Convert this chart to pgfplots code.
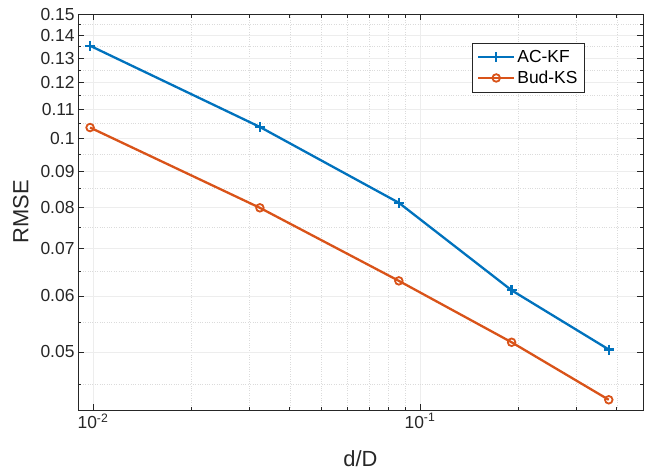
\documentclass[border=0pt]{standalone}
\usepackage{fontspec}
\setmainfont{Liberation Sans}
\usepackage{pgfplots}
\pgfplotsset{compat=1.18}
\definecolor{mblue}{rgb}{0,0.447,0.741}
\definecolor{morange}{rgb}{0.85,0.325,0.098}
\definecolor{axgray}{rgb}{0.15,0.15,0.15}
\begin{document}
\begin{tikzpicture}
\begin{loglogaxis}[
  scale only axis, width=565bp, height=396bp,
  xmin=0.009, xmax=0.481, ymin=0.0414, ymax=0.15,
  /pgf/number format/assume math mode=true,
  xtick={0.01,0.1},
  xticklabels={10\textsuperscript{-2},10\textsuperscript{-1}},
  minor xtick={0.02,0.03,0.04,0.05,0.06,0.07,0.08,0.09,0.2,0.3,0.4},
  ytick={0.05,0.06,0.07,0.08,0.09,0.1,0.11,0.12,0.13,0.14,0.15},
  yticklabels={0.05,0.06,0.07,0.08,0.09,0.1,0.11,0.12,0.13,0.14,0.15},
  minor ytick={0.045,0.055,0.065,0.075,0.085,0.095,0.105,0.115,0.125,0.135,0.145},
  grid=both,
  major grid style={solid, draw=black!7, line width=0.7bp},
  minor grid style={dotted, draw=black!14, line width=0.6bp},
  tick align=inside,
  major tick length=6bp, minor tick length=3.5bp,
  tick style={axgray, line width=0.7bp},
  axis line style={axgray, line width=0.8bp},
  ticklabel style={font=\fontsize{17.5}{20}\selectfont, text=axgray},
  label style={font=\fontsize{22}{26}\selectfont, text=axgray},
  xlabel={d/D}, ylabel={RMSE},
  xlabel style={at={(axis description cs:0.5,-0.123)}, anchor=center},
  ylabel style={at={(axis description cs:-0.101,0.5)}, anchor=center},
  legend style={at={(0.897,0.927)}, anchor=north east, draw=axgray, line width=0.7bp,
    font=\fontsize{17.5}{20}\selectfont, text=black, inner xsep=5bp, inner ysep=5bp,
    row sep=3bp},
  legend cell align=left,
  legend image code/.code={\draw[mark repeat=2,mark phase=2,#1] plot coordinates {(0bp,0bp) (18bp,0bp) (36bp,0bp)};},
]
\addplot[mblue, line width=2.3bp, mark=+, mark size=5bp, mark options={line width=2.2bp}]
  coordinates {(0.0098,0.1353) (0.0324,0.1039) (0.0862,0.0812) (0.1907,0.0611) (0.378,0.0504)};
\addlegendentry{AC-KF}
\addplot[morange, line width=2.3bp, mark=o, mark size=3.8bp, mark options={line width=1.8bp}]
  coordinates {(0.0098,0.1037) (0.0324,0.0799) (0.0862,0.0630) (0.1907,0.0516) (0.378,0.0428)};
\addlegendentry{Bud-KS}
\coordinate (sw) at (rel axis cs:0,0);
\end{loglogaxis}
\pgfresetboundingbox
\path (sw) ++(-78bp,-61bp) rectangle ++(647bp,471bp);
\end{tikzpicture}
\end{document}
